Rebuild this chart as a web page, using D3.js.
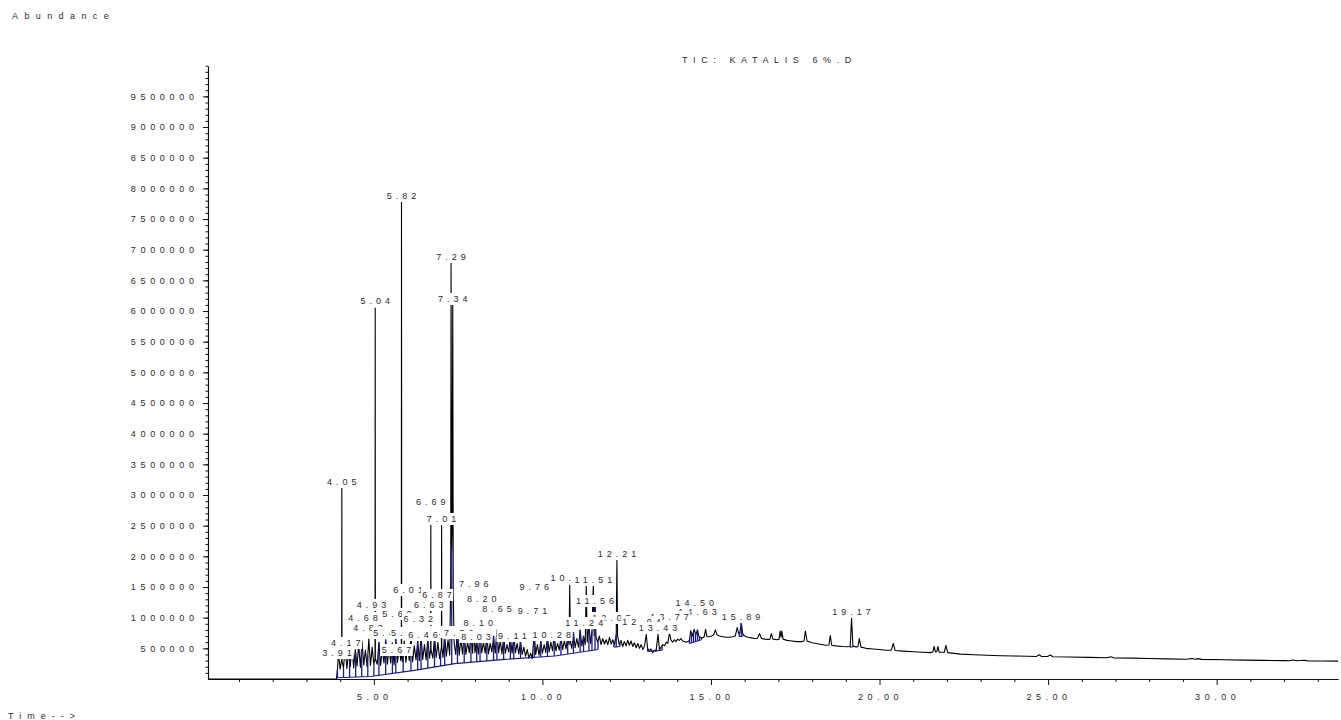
<!DOCTYPE html>
<html><head><meta charset="utf-8">
<script src="https://cdn.jsdelivr.net/npm/d3@7"></script>
<style>
body{margin:0;background:#fff;}
svg{display:block;}
text{font-family:"Liberation Sans",Arial,sans-serif;}
</style></head><body>
<svg id="chart" width="1341" height="720"></svg>
<script>
// ---------- DATA ----------
// TIC trace: [retention time (min), abundance]
const trace = [
[0.08,0],[3.86,0],[3.89,0],[3.92,150000],[3.95,420000],[4.00,160000],[4.045,320000],[4.05,3130000],[4.055,300000],
[4.10,180000],[4.15,520000],[4.20,170000],[4.25,450000],[4.30,200000],[4.35,600000],[4.40,180000],[4.45,480000],
[4.50,210000],[4.55,560000],[4.60,190000],[4.65,620000],[4.70,230000],[4.75,470000],[4.80,200000],[4.85,650000],
[4.90,220000],[4.95,520000],[5.00,240000],[5.035,330000],[5.04,6050000],[5.045,330000],[5.10,240000],[5.15,600000],
[5.20,220000],[5.25,480000],[5.30,260000],[5.35,640000],[5.40,240000],[5.45,500000],[5.50,260000],[5.55,590000],
[5.60,230000],[5.65,650000],[5.70,270000],[5.75,520000],[5.80,300000],[5.815,420000],[5.82,7800000],[5.825,420000],
[5.85,280000],[5.90,620000],[5.95,270000],[6.00,560000],[6.05,300000],[6.10,680000],[6.15,280000],[6.20,540000],
[6.25,310000],[6.30,620000],[6.35,300000],[6.40,700000],[6.45,320000],[6.50,560000],[6.55,310000],[6.60,660000],
[6.65,340000],[6.685,480000],[6.69,2540000],[6.695,480000],[6.75,340000],[6.80,700000],[6.85,350000],[6.90,600000],
[6.95,330000],[7.005,520000],[7.01,2500000],[7.015,520000],[7.05,350000],[7.10,720000],[7.15,370000],[7.20,640000],
[7.25,390000],[7.28,1600000],[7.29,6790000],[7.305,2060000],[7.32,2400000],[7.34,6100000],[7.355,1400000],[7.38,600000],
[7.43,400000],[7.48,820000],[7.53,390000],[7.58,650000],[7.63,410000],[7.68,760000],[7.73,400000],[7.78,600000],
[7.83,430000],[7.88,720000],[7.93,420000],[7.96,900000],[8.00,430000],[8.05,640000],[8.10,410000],[8.15,760000],
[8.20,430000],[8.25,600000],[8.30,420000],[8.35,720000],[8.40,410000],[8.45,580000],[8.50,440000],[8.55,700000],
[8.60,420000],[8.65,800000],[8.70,430000],[8.75,620000],[8.80,410000],[8.85,700000],[8.90,420000],[8.95,560000],
[9.00,440000],[9.05,680000],[9.10,420000],[9.15,720000],[9.20,430000],[9.25,580000],[9.30,410000],[9.35,620000],
[9.40,400000],[9.45,520000],[9.50,370000],[9.55,480000],[9.60,340000],[9.65,420000],[9.70,330000],[9.73,560000],
[9.76,740000],[9.80,400000],[9.85,560000],[9.90,390000],[9.95,620000],[10.00,420000],[10.05,560000],[10.10,430000],
[10.15,680000],[10.20,440000],[10.25,600000],[10.30,460000],[10.35,720000],[10.40,460000],[10.45,580000],[10.50,470000],
[10.55,680000],[10.60,480000],[10.65,620000],[10.70,490000],[10.75,700000],[10.79,560000],[10.81,1530000],[10.83,600000],
[10.87,500000],[10.92,760000],[10.97,510000],[11.02,660000],[11.07,520000],[11.12,800000],[11.17,540000],[11.22,700000],
[11.27,560000],[11.30,1530000],[11.33,600000],[11.38,880000],[11.43,580000],[11.47,780000],[11.51,1540000],[11.535,700000],
[11.56,1300000],[11.59,680000],[11.64,600000],[11.69,700000],[11.74,560000],[11.79,660000],[11.84,570000],[11.89,640000],
[11.94,560000],[11.99,680000],[12.04,570000],[12.09,640000],[12.14,560000],[12.19,720000],[12.21,1940000],[12.23,700000],
[12.28,560000],[12.33,630000],[12.38,530000],[12.43,610000],[12.48,540000],[12.53,630000],[12.58,550000],[12.63,620000],
[12.68,530000],[12.73,590000],[12.78,510000],[12.83,580000],[12.88,500000],[12.93,560000],[12.98,480000],[13.03,540000],
[13.08,730000],[13.12,500000],[13.17,460000],[13.22,490000],[13.27,430000],[13.32,470000],[13.37,450000],[13.43,730000],
[13.47,480000],[13.52,520000],[13.57,560000],[13.62,540000],[13.67,600000],[13.72,580000],[13.77,760000],[13.81,640000],
[13.86,600000],[13.91,640000],[13.96,610000],[14.01,650000],[14.06,630000],[14.11,660000],[14.16,620000],[14.21,610000],
[14.26,600000],[14.31,610000],[14.36,630000],[14.40,790000],[14.45,700000],[14.50,810000],[14.55,720000],[14.60,800000],
[14.64,700000],[14.68,680000],[14.74,670000],[14.80,690000],[14.84,810000],[14.88,690000],[14.95,690000],[15.02,700000],
[15.08,720000],[15.13,800000],[15.18,720000],[15.25,700000],[15.35,690000],[15.45,680000],[15.55,680000],[15.65,690000],
[15.72,700000],[15.78,840000],[15.82,740000],[15.86,760000],[15.90,930000],[15.94,740000],[16.00,700000],[16.10,680000],
[16.20,670000],[16.30,660000],[16.38,665000],[16.44,740000],[16.50,660000],[16.60,650000],[16.70,645000],[16.75,650000],
[16.79,740000],[16.84,650000],[16.95,640000],[17.02,650000],[17.05,780000],[17.08,680000],[17.10,780000],[17.14,650000],
[17.25,630000],[17.40,620000],[17.55,610000],[17.70,610000],[17.76,620000],[17.80,780000],[17.85,620000],[18.00,590000],
[18.20,570000],[18.40,550000],[18.50,555000],[18.54,710000],[18.58,550000],[18.70,540000],[18.90,530000],[19.05,525000],
[19.13,530000],[19.17,990000],[19.21,540000],[19.30,520000],[19.36,530000],[19.40,660000],[19.45,520000],[19.60,500000],
[19.80,490000],[20.00,480000],[20.20,470000],[20.35,470000],[20.41,580000],[20.46,465000],[20.70,455000],[21.00,445000],
[21.30,435000],[21.50,430000],[21.58,440000],[21.62,530000],[21.66,440000],[21.70,445000],[21.73,530000],[21.77,435000],
[21.92,435000],[21.97,550000],[22.02,430000],[22.40,405000],[22.80,395000],[23.20,388000],[23.60,380000],[24.00,375000],
[24.40,370000],[24.65,368000],[24.74,395000],[24.80,368000],[24.98,366000],[25.07,392000],[25.14,362000],[25.60,358000],
[26.20,352000],[26.75,346000],[26.86,362000],[26.95,345000],[27.50,340000],[28.00,334000],[28.50,328000],[29.10,322000],
[29.26,335000],[29.36,322000],[29.45,332000],[29.55,320000],[30.20,314000],[30.80,308000],[31.40,303000],[32.00,300000],
[32.15,298000],[32.27,310000],[32.38,298000],[32.60,305000],[32.70,296000],[33.10,293000],[33.60,291000]
];

// integration baselines (blue) and peak-boundary drop lines
const integrationBaselines = [
  [[3.90,20000],[4.90,40000],[6.20,140000],[7.40,250000],[8.88,320000],[10.37,375000],[11.65,480000]],
  [[12.12,520000],[12.30,530000]],
  [[13.12,450000],[13.55,470000]],
  [[14.36,580000],[14.72,640000]],
  [[15.84,690000],[15.96,700000]],
  [[19.12,520000],[19.22,525000]]
];
const integrationDrops = [
  3.92,4.10,4.28,4.46,4.64,4.82,5.00,5.15,5.35,5.55,5.65,5.87,6.10,6.30,6.40,6.60,6.80,6.98,7.10,7.31,
  7.48,7.68,7.88,8.05,8.15,8.35,8.55,8.65,8.85,9.05,9.15,9.35,9.60,9.76,9.95,10.15,10.35,10.55,10.75,
  10.92,11.12,11.22,11.38,11.47,11.56,11.65,
  12.12,12.19,12.30,
  13.12,13.38,13.48,13.55,
  14.36,14.42,14.48,14.54,14.60,14.66,14.72,
  15.84,15.90,15.96,
  19.12,19.22
];

// peak labels: [text, retention time, abundance at label centre]
const peakLabels = [
["5.82",5.82,7875000],["7.29",7.29,6881000],["7.34",7.34,6196000],["5.04",5.04,6163000],["4.05",4.05,3212000],
["6.69",6.69,2886000],["7.01",7.01,2609000],["12.21",12.21,2038000],["10.81",10.81,1647000],["11.51",11.51,1614000],
["7.96",7.96,1549000],["9.76",9.76,1500000],["6.01",6.01,1451000],["6.87",6.87,1370000],["8.20",8.20,1304000],
["11.56",11.56,1272000],["14.50",14.52,1239000],["6.63",6.63,1207000],["4.93",4.93,1207000],
["8.65",8.65,1141000],["9.71",9.71,1109000],
["14.63",14.60,1092000],["19.17",19.17,1092000],["5.69",5.69,1060000],["15.89",15.89,1011000],
["13.77",13.77,1011000],["12.05",12.05,995000],["4.68",4.68,995000],["6.32",6.32,978000],
["12.94",12.94,929000],["8.10",8.10,913000],["11.24",11.24,913000],
["13.43",13.43,832000],["4.83",4.83,832000],["7.07",7.07,766000],["5.42",5.42,750000],["5.95",5.95,750000],
["7.52",7.52,750000],["6.46",6.46,717000],["10.28",10.28,717000],["9.11",9.11,701000],["8.03",8.03,685000],
["4.17",4.17,587000],["5.67",5.67,473000],["3.91",3.91,424000]
];

// axes
const yMajorTicks = [500000,1000000,1500000,2000000,2500000,3000000,3500000,4000000,4500000,5000000,
                     5500000,6000000,6500000,7000000,7500000,8000000,8500000,9000000,9500000];
const xMajorTicks = [5,10,15,20,25,30];
const xTickLabels = ["5.00","10.00","15.00","20.00","25.00","30.00"];
const xMinorTicks = [1,2,3,4,6,7,8,9,11,12,13,14,16,17,18,19,21,22,23,24,26,27,28,29,31,32,33];
const titleText = "TIC: KATALIS 6%.D";
const yTitle = "Abundance";
const xTitle = "Time-->";

// ---------- DRAW ----------
const svg = d3.select("#chart");
const x = d3.scaleLinear().domain([0.08, 33.6]).range([208, 1338]);
const y = d3.scaleLinear().domain([0, 10000000]).range([679, 65.7]);
const TXT = "#2a2a2a";

// texts
svg.append("text").attr("x",12).attr("y",19).attr("font-size",9).attr("letter-spacing",6.4).attr("fill",TXT).text(yTitle);
svg.append("text").attr("x",682).attr("y",63).attr("font-size",9).attr("letter-spacing",5.6).attr("fill",TXT).text(titleText);
svg.append("text").attr("x",8).attr("y",719).attr("font-size",9).attr("letter-spacing",6).attr("fill",TXT).text(xTitle);

// y axis
const gy = svg.append("g").attr("transform","translate(208,0)");
gy.call(d3.axisLeft(y).tickValues(d3.range(100000, 10000001, 100000)).tickSize(2.5).tickSizeOuter(0).tickFormat(""));
const gyMaj = gy.append("g").call(d3.axisLeft(y).tickValues(yMajorTicks).tickSize(5).tickSizeOuter(0)
   .tickPadding(9).tickFormat(d3.format("d")));
gyMaj.select(".domain").remove();
gyMaj.selectAll("text").attr("font-size",9).attr("letter-spacing",4.7).attr("fill",TXT)
   .attr("font-family",'"Liberation Sans",Arial,sans-serif').attr("dx",4.7);

// x axis
const gx = svg.append("g").attr("transform","translate(0,679)");
gx.call(d3.axisBottom(x).tickValues(xMinorTicks).tickSize(3).tickSizeOuter(0).tickFormat(""));
const gxMaj = gx.append("g").call(d3.axisBottom(x).tickValues(xMajorTicks).tickSize(6).tickSizeOuter(0)
   .tickPadding(9).tickFormat((d,i)=>xTickLabels[i]));
gxMaj.select(".domain").remove();
gxMaj.selectAll("text").attr("font-size",9).attr("letter-spacing",4.5).attr("fill",TXT)
   .attr("font-family",'"Liberation Sans",Arial,sans-serif').attr("dx",0.5);
svg.selectAll(".domain").attr("stroke","#111").attr("stroke-width",1.2);
svg.selectAll(".tick line").attr("stroke","#111");

// trace
const line = d3.line().x(d=>x(d[0])).y(d=>y(d[1]));
svg.append("path").datum(trace).attr("d",line).attr("fill","none").attr("stroke","#000")
   .attr("stroke-width",1.1).attr("stroke-linejoin","round");

// interpolation helpers
const bis = d3.bisector(d=>d[0]).left;
function valueAt(series, t){
  let i = bis(series, t);
  if(i<=0) return series[0][1];
  if(i>=series.length) return series[series.length-1][1];
  const a=series[i-1], b=series[i];
  return a[1] + (b[1]-a[1])*(t-a[0])/(b[0]-a[0]);
}

// integration marks
const BLUE = "#1a1a8c";
const gi = svg.append("g");
integrationBaselines.forEach(b=>{
  gi.append("path").datum(b).attr("d",line).attr("fill","none").attr("stroke",BLUE).attr("stroke-width",1.1);
});
integrationDrops.forEach(t=>{
  const b = integrationBaselines.find(s=>t>=s[0][0]-1e-9 && t<=s[s.length-1][0]+1e-9);
  if(!b) return;
  gi.append("line").attr("x1",x(t)).attr("x2",x(t))
    .attr("y1",y(valueAt(b,t))).attr("y2",y(valueAt(trace,t)))
    .attr("stroke",BLUE).attr("stroke-width",1.3);
});

// peak labels with white boxes (upper first, lower ones drawn over)
const LS = 4;
const sorted = peakLabels.slice().sort((a,b)=>b[2]-a[2]);
const gl = svg.append("g");
sorted.forEach(p=>{
  const g = gl.append("g");
  const r = g.append("rect").attr("fill","#fff");
  const t = g.append("text").attr("x",x(p[1])).attr("y",y(p[2])+3.3).attr("dx",LS/2)
     .attr("text-anchor","middle").attr("font-size",9).attr("letter-spacing",LS).attr("fill",TXT).text(p[0]);
  const bb = t.node().getBBox();
  r.attr("x",bb.x-1.5).attr("y",y(p[2])-6).attr("width",bb.width-LS+3).attr("height",12);
});
</script>
</body></html>
